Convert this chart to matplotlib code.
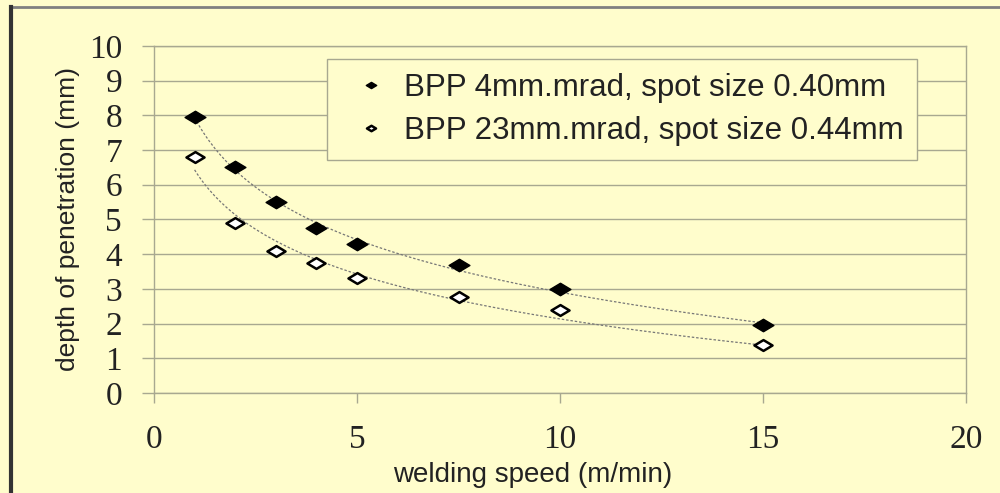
import numpy as np
import matplotlib
matplotlib.use("Agg")
import matplotlib.pyplot as plt
from matplotlib.path import Path
from matplotlib.lines import Line2D

# --- data ---
speed = [1, 2, 3, 4, 5, 7.5, 10, 15]
depth_bpp4 = [7.95, 6.5, 5.5, 4.75, 4.3, 3.7, 3.0, 1.95]
depth_bpp23 = [6.8, 4.9, 4.1, 3.75, 3.3, 2.75, 2.4, 1.38]
labels = ["BPP 4mm.mrad, spot size 0.40mm", "BPP 23mm.mrad, spot size 0.44mm"]

BG = "#FFFDCC"
GRID = "#A8A890"

# wide diamond marker, like the stretched original
diamond = Path([(-1, 0), (0, 0.6), (1, 0), (0, -0.6), (-1, 0)],
               [Path.MOVETO, Path.LINETO, Path.LINETO, Path.LINETO, Path.CLOSEPOLY])

fig = plt.figure(figsize=(10, 4.93), dpi=100, facecolor=BG)
ax = fig.add_axes([0.154, 0.203, 0.812, 0.704], facecolor=BG)

# log trendlines (Excel style) fitted from the points
xs = np.linspace(min(speed), max(speed), 200)
for y in (depth_bpp4, depth_bpp23):
    a, b = np.polyfit(np.log(speed), y, 1)
    ax.plot(xs, a * np.log(xs) + b, color="#777777", lw=0.9, ls=(0, (2, 1.5)), zorder=2)

ax.plot(speed, depth_bpp4, ls="none", marker=diamond, ms=15, mfc="black", mec="black",
        label=labels[0], zorder=3)
ax.plot(speed, depth_bpp23, ls="none", marker=diamond, ms=13, mfc="white", mec="black",
        mew=1.8, label=labels[1], zorder=3)

ax.set_xlim(0, 20)
ax.set_ylim(0, 10)
ax.set_xticks([0, 5, 10, 15, 20])
ax.set_yticks(range(0, 11))
ax.grid(axis="y", color=GRID, lw=1.0)
for side in ("left", "right", "top", "bottom"):
    ax.spines[side].set_color(GRID)
    ax.spines[side].set_linewidth(1.0)
ax.tick_params(axis="both", direction="out", color=GRID, width=1.0)
ax.tick_params(axis="y", length=9, pad=14)
ax.tick_params(axis="x", length=7, pad=16)
for t in ax.get_xticklabels() + ax.get_yticklabels():
    t.set_fontfamily("Liberation Serif")
    t.set_fontsize(24)
    t.set_color("#222222")

ax.set_xlabel("welding speed (m/min)", fontfamily="Liberation Sans", fontsize=20, color="#222222")
ax.xaxis.set_label_coords(0.466, -0.2)
ax.set_ylabel("depth of penetration (mm)", fontfamily="Liberation Sans", fontsize=19, color="#222222")
ax.yaxis.set_label_coords(-0.091, 0.5)

leg = ax.legend(loc="upper left", bbox_to_anchor=(0.213, 0.962), borderaxespad=0,
                prop={"family": "Liberation Sans", "size": 22.5},
                frameon=True, fancybox=False, edgecolor=GRID, facecolor=BG, framealpha=1,
                handlelength=1.9, handletextpad=0.1, labelspacing=0.42, borderpad=0.45, markerscale=0.5)
leg.get_frame().set_linewidth(1.0)
for t in leg.get_texts():
    t.set_color("#222222")

# outer frame of the original chart (top and left edges visible)
fig.add_artist(Line2D([0.011, 1.0], [0.986, 0.986], transform=fig.transFigure, color="#808080", lw=2))
fig.add_artist(Line2D([0.011, 0.011], [0.0, 0.986], transform=fig.transFigure, color="#333333", lw=3))

fig.savefig("out.png", dpi=100, facecolor=BG)
